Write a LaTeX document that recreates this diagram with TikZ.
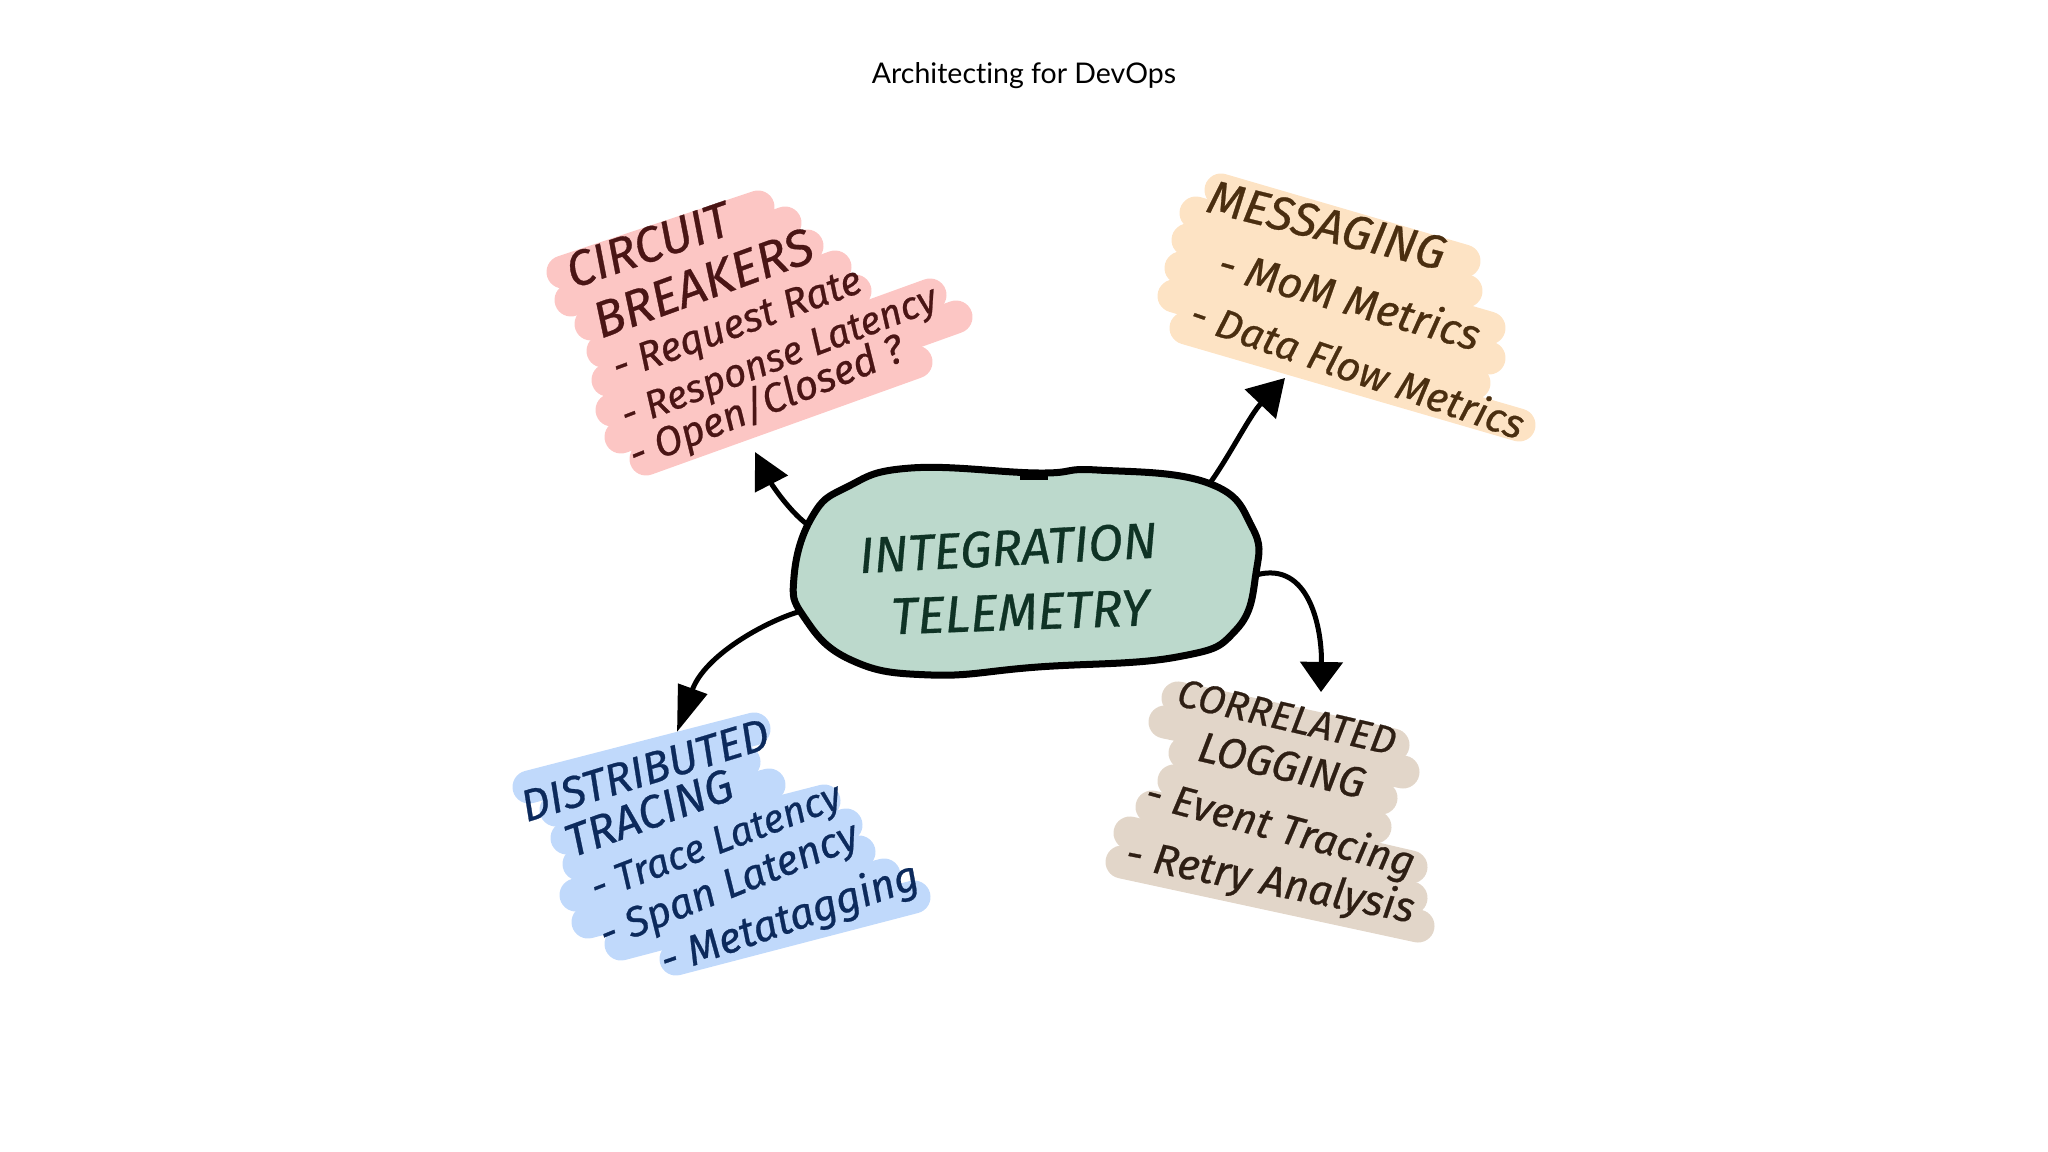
\documentclass[tikz,border=0pt]{standalone}
\usepackage{fontspec}
\usepackage{graphicx}
\setmainfont{Lato}[Ligatures={TeX,NoCommon}]
\newfontfamily\handfont{Fira Sans}[FakeBold=0.6]
\usetikzlibrary{arrows.meta}
\definecolor{breakersFill}{HTML}{FCC6C4}
\definecolor{breakersInk}{HTML}{4A1515}
\definecolor{messagingFill}{HTML}{FDE3C4}
\definecolor{messagingInk}{HTML}{4A2E10}
\definecolor{tracingFill}{HTML}{C0D9FB}
\definecolor{tracingInk}{HTML}{0C2A5C}
\definecolor{loggingFill}{HTML}{E2D6C9}
\definecolor{loggingInk}{HTML}{2E1F14}
\definecolor{telemetryFill}{HTML}{BCD9CC}
\definecolor{telemetryInk}{HTML}{0F3325}
\newcommand{\hand}[2]{\resizebox{#1}{!}{\handfont\itshape #2}}

\begin{document}
\begin{tikzpicture}[x=0.01cm,y=-0.01cm]
	\tikzstyle{brush}=[line width=0.33cm,line cap=round]
	\tikzstyle{line}=[inner sep=0pt]
	\tikzstyle{link}=[line width=0.05cm]
	\useasboundingbox (0,0) rectangle (2048,1152);

	% Title
	\node[line,font=\fontsize{8.1pt}{10pt}\selectfont] (title) at (1024,76) {Architecting for DevOps};

	% Coloured patches
	\foreach \xa/\ya/\xb/\yb in {563/272/758/207,571/300/785/223,591/324/807/246,603/351/835/267,608/380/855/291,612/410/930/295,621/437/956/317,646/459/916/362}
		\draw[brush,breakersFill] (\xa,\ya) -- (\xb,\yb);
	\foreach \xa/\ya/\xb/\yb in {1221/190/1464/261,1196/213/1466/291,1188/240/1489/328,1181/268/1489/358,1174/296/1474/383,1186/328/1519/425}
		\draw[brush,messagingFill] (\xa,\ya) -- (\xb,\yb);
	\foreach \xa/\ya/\xb/\yb in {529/787/754/729,556/810/744/762,567/838/769/785,579/864/824/801,576/895/846/825,588/922/859/852,621/944/884/875,676/959/914/897}
		\draw[brush,tracingFill] (\xa,\ya) -- (\xb,\yb);
	\foreach \xa/\ya/\xb/\yb in {1178/698/1393/745,1165/722/1403/772,1185/753/1381/798,1174/781/1375/827,1152/807/1411/867,1130/833/1411/898,1122/862/1418/926}
		\draw[brush,loggingFill] (\xa,\ya) -- (\xb,\yb);

	% Centre shape
	\draw[line width=0.07cm,draw=black,fill=telemetryFill] plot[smooth cycle,tension=0.75] coordinates {(794,577) (812,517) (847,487) (911,468) (1038,473) (1097,470) (1208,483) (1252,527) (1256,573) (1236,630) (1177,657) (1038,667) (931,675) (851,660) (804,617)};
	\draw[line width=0.04cm] (1020,478) -- (1048,478);

	% Circuit breakers
	\begin{scope}[text=breakersInk]
		\node[line,rotate=19] (breakersA) at (648,245) {\hand{1.70cm}{CIRCUIT}};
		\node[line,rotate=20] (breakersB) at (703,283) {\hand{2.30cm}{BREAKERS}};
		\node[line,rotate=20] (breakersC) at (738,327) {\hand{2.62cm}{- Request Rate}};
		\node[line,rotate=21] (breakersD) at (780,360) {\hand{3.35cm}{- Response Latency}};
		\node[line,rotate=22] (breakersE) at (767,403) {\hand{2.93cm}{- Open/Closed ?}};
	\end{scope}

	% Messaging
	\begin{scope}[text=messagingInk]
		\node[line,rotate=-14] (messagingA) at (1327,225) {\hand{2.43cm}{MESSAGING}};
		\node[line,rotate=-16] (messagingB) at (1350,298) {\hand{2.70cm}{- MoM Metrics}};
		\node[line,rotate=-19] (messagingC) at (1358,368) {\hand{3.50cm}{- Data Flow Metrics}};
	\end{scope}

	% Distributed tracing
	\begin{scope}[text=tracingInk]
		\node[line,rotate=17] (tracingA) at (645,770) {\hand{2.57cm}{DISTRIBUTED}};
		\node[line,rotate=20] (tracingB) at (649,813) {\hand{1.75cm}{TRACING}};
		\node[line,rotate=21] (tracingC) at (717,845) {\hand{2.65cm}{- Trace Latency}};
		\node[line,rotate=22] (tracingD) at (730,888) {\hand{2.75cm}{- Span Latency}};
		\node[line,rotate=19] (tracingE) at (790,920) {\hand{2.70cm}{- Metatagging}};
	\end{scope}

	% Correlated logging
	\begin{scope}[text=loggingInk]
		\node[line,rotate=-13] (loggingA) at (1287,717) {\hand{2.23cm}{CORRELATED}};
		\node[line,rotate=-13] (loggingB) at (1282,765) {\hand{1.70cm}{LOGGING}};
		\node[line,rotate=-15] (loggingC) at (1280,830) {\hand{2.77cm}{- Event Tracing}};
		\node[line,rotate=-11] (loggingD) at (1270,883) {\hand{2.93cm}{- Retry Analysis}};
	\end{scope}

	% Centre text
	\begin{scope}[text=telemetryInk]
		\node[line,rotate=3] (telemetryA) at (1008,548) {\hand{2.98cm}{INTEGRATION}};
		\node[line,rotate=2] (telemetryB) at (1020,612) {\hand{2.58cm}{TELEMETRY}};
	\end{scope}

	% Connectors
	\coordinate (centreNW) at (808,525);
	\coordinate (centreNE) at (1210,483);
	\coordinate (centreE) at (1256,575);
	\coordinate (centreW) at (798,612);
	\coordinate (breakersTip) at (755,452);
	\coordinate (messagingTip) at (1285,378);
	\coordinate (loggingTip) at (1321,692);
	\coordinate (tracingTip) at (677,732);
	\draw[link,-{Triangle[length=0.36cm,width=0.36cm]}] (centreNW) .. controls (790,512) and (772,485) .. (breakersTip);
	\draw[link,-{Triangle[length=0.36cm,width=0.42cm]}] (centreNE) .. controls (1230,455) and (1250,415) .. (messagingTip);
	\draw[link,-{Triangle[length=0.30cm,width=0.42cm]}] (centreE) .. controls (1310,560) and (1322,630) .. (loggingTip);
	\draw[link,-{Triangle[length=0.46cm,width=0.30cm]}] (centreW) .. controls (765,622) and (705,655) .. (tracingTip);
\end{tikzpicture}
\end{document}
